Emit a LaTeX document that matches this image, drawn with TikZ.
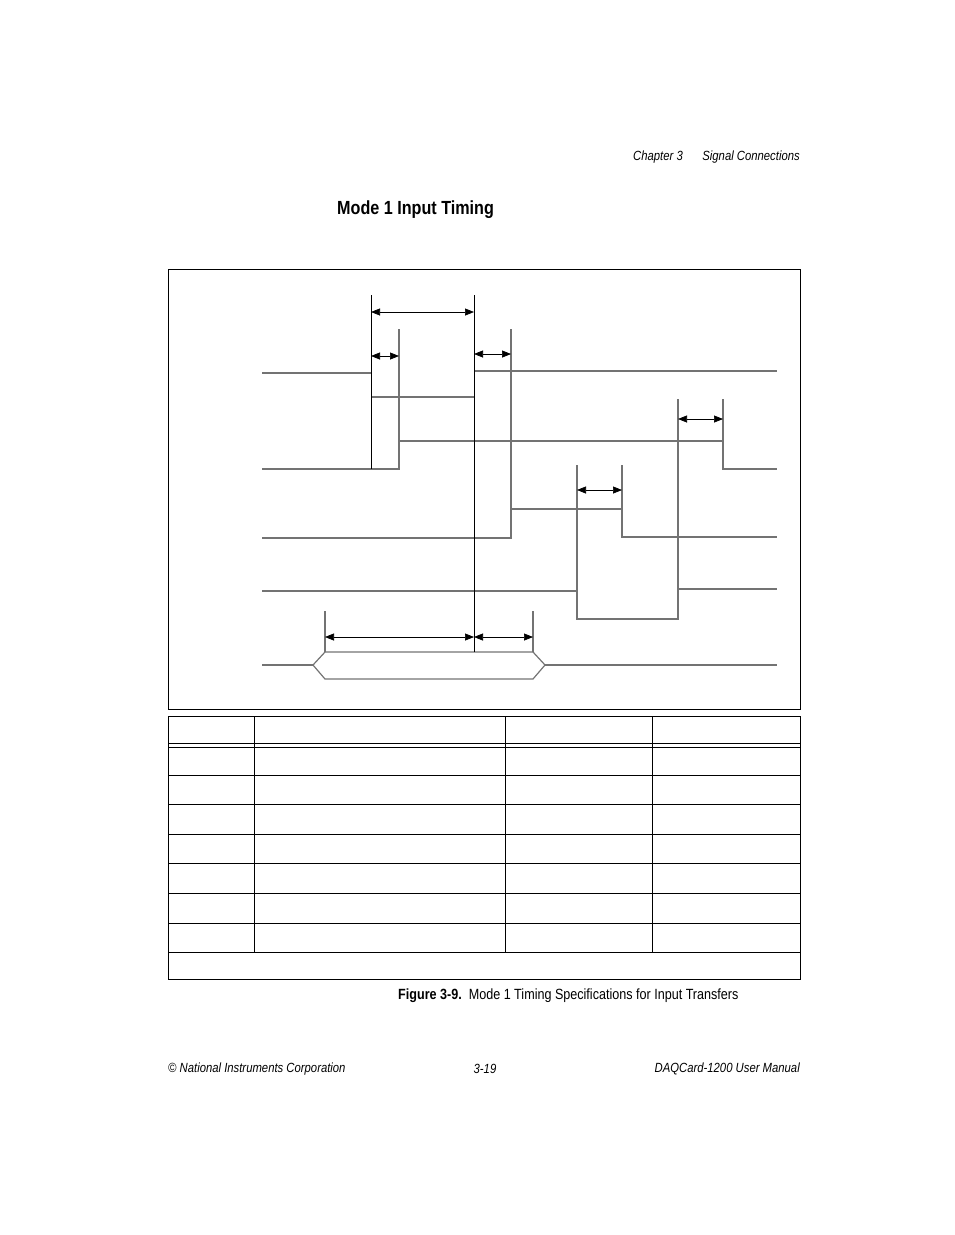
\documentclass[tikz,border=0pt]{standalone}
\usepackage{fontspec}
\setmainfont{Liberation Sans}
\usetikzlibrary{arrows.meta}
\begin{document}
\begin{tikzpicture}[x=1pt,y=-1pt,
  sig/.style={draw=black!55,line width=1.2pt},
  blk/.style={draw=black,line width=1pt},
  dim/.style={draw=black,line width=0.7pt,{Triangle[length=9pt,width=7pt]}-{Triangle[length=9pt,width=7pt]}},
  tab/.style={draw=black,line width=1pt},
  hdr/.style={font=\fontsize{13.3}{14}\selectfont\itshape,inner sep=0pt}]
\useasboundingbox (0,0) rectangle (954,1235);
\node[hdr,anchor=west] (h1) at (633,157) {\scalebox{0.85}[1]{Chapter 3}};
\node[hdr,anchor=east] (h2) at (800,157) {\scalebox{0.85}[1]{Signal Connections}};
\node[anchor=west,inner sep=0pt,font=\fontsize{19}{20}\selectfont\bfseries] (t) at (337,210) {\scalebox{0.85}[1]{Mode 1 Input Timing}};
\draw[blk] (168,269) rectangle (800,709);
% signal 1
\draw[sig] (262,373) -- (371,373);
\draw[sig] (371,397) -- (474,397);
\draw[sig] (474,371) -- (777,371);
% signal 2
\draw[sig] (262,469) -- (399,469) -- (399,441) -- (723,441) -- (723,469) -- (777,469);
% signal 3
\draw[sig] (262,538) -- (511,538) -- (511,509) -- (622,509) -- (622,537) -- (777,537);
% signal 4
\draw[sig] (262,591) -- (577,591) -- (577,619) -- (678,619) -- (678,589) -- (777,589);
% bus
\draw[sig] (262,665) -- (313,665);
\draw[sig] (313,665) -- (325,652) -- (533,652) -- (545,665) -- (533,679) -- (325,679) -- cycle;
\draw[sig] (545,665) -- (777,665);
% verticals
\draw[blk] (371,295) -- (371,469);
\draw[blk] (474,295) -- (474,652);
\draw[sig] (399,329) -- (399,441);
\draw[sig] (511,329) -- (511,509);
\draw[sig] (577,465) -- (577,591);
\draw[sig] (622,465) -- (622,509);
\draw[sig] (678,399) -- (678,589);
\draw[sig] (723,399) -- (723,441);
\draw[sig] (325,611) -- (325,652);
\draw[sig] (533,611) -- (533,652);
% dimension arrows
\coordinate (a1) at (371,312); \coordinate (b1) at (474,312);
\coordinate (a2) at (371,356); \coordinate (b2) at (399,356);
\coordinate (a3) at (474,354); \coordinate (b3) at (511,354);
\coordinate (a4) at (678,419); \coordinate (b4) at (723,419);
\coordinate (a5) at (577,490); \coordinate (b5) at (622,490);
\coordinate (a6) at (325,637); \coordinate (b6) at (474,637);
\coordinate (a7) at (474,637); \coordinate (b7) at (533,637);
\foreach \i in {1,...,7} \draw[dim] (a\i) -- (b\i);
% table
\draw[tab] (168,716) rectangle (800,979);
\draw[tab] (168,743) -- (800,743);
\draw[tab] (168,747) -- (800,747);
\foreach \y in {775,804,834,863,893,923,952} \draw[tab] (168,\y) -- (800,\y);
\foreach \x in {254,505,652} \draw[tab] (\x,716) -- (\x,952);
\node[anchor=west,inner sep=0pt,font=\fontsize{14.8}{16}\selectfont] (cap) at (398,996) {\scalebox{0.85}[1]{\textbf{Figure 3-9.}\ \ Mode 1 Timing Specifications for Input Transfers}};
\node[hdr,anchor=west] (f1) at (168,1069) {\scalebox{0.85}[1]{© National Instruments Corporation}};
\node[hdr,anchor=center] (f2) at (485,1069) {\scalebox{0.85}[1]{3-19}};
\node[hdr,anchor=east] (f3) at (800,1069) {\scalebox{0.85}[1]{DAQCard-1200 User Manual}};
\end{tikzpicture}
\end{document}
